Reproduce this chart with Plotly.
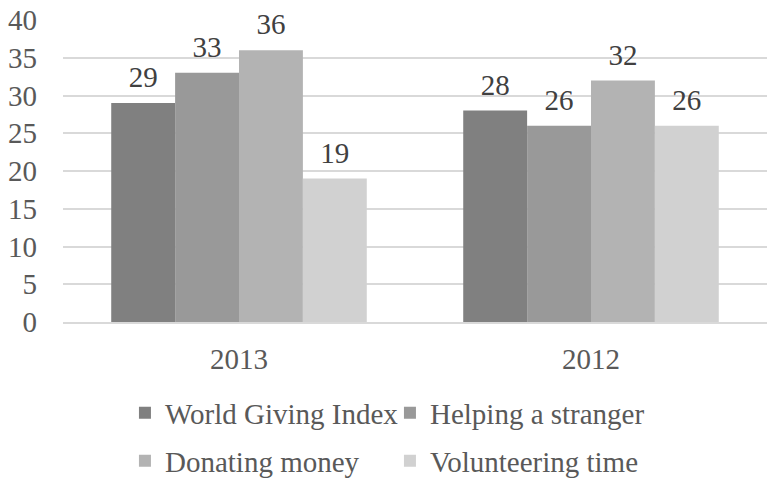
import plotly.graph_objects as go

categories = ["2013", "2012"]
series_names = ["World Giving Index", "Helping a stranger", "Donating money", "Volunteering time"]
world_giving = [29, 28]
helping = [33, 26]
donating = [36, 32]
volunteering = [19, 26]
colors = ["#808080", "#999999", "#b3b3b3", "#d1d1d1"]
legend_ids = ["legend", "legend", "legend2", "legend2"]
y_ticks = [0, 5, 10, 15, 20, 25, 30, 35, 40]

FONT = "'Liberation Serif', 'DejaVu Serif', serif"
TXT = "#595959"
FS = 29
LABEL_PAD = 0.9  # gap (in axis units) between bar top and its value label

fig = go.Figure()
all_vals = [world_giving, helping, donating, volunteering]
for i, (name, vals, col, lg) in enumerate(zip(series_names, all_vals, colors, legend_ids)):
    fig.add_trace(go.Bar(
        x=categories, y=vals, name=name, marker=dict(color=col, line=dict(width=0)),
        offsetgroup=str(i), legend=lg, hoverinfo="y",
    ))
for i, vals in enumerate(all_vals):
    fig.add_trace(go.Bar(
        x=categories, y=[LABEL_PAD] * len(vals), base=vals, offsetgroup=str(i),
        marker=dict(color="rgba(0,0,0,0)", line=dict(width=0)),
        text=[str(v) for v in vals], textposition="outside",
        textfont=dict(family=FONT, size=FS, color="#404040"),
        cliponaxis=False, showlegend=False, hoverinfo="skip",
    ))

leg_common = dict(orientation="h", xanchor="left", yanchor="middle",
                  entrywidth=220, entrywidthmode="pixels",
                  font=dict(family=FONT, size=FS, color=TXT),
                  bgcolor="rgba(0,0,0,0)", tracegroupgap=0, itemwidth=30)

fig.update_layout(
    width=767, height=478,
    margin=dict(l=63, r=0, t=20, b=156, autoexpand=False),
    paper_bgcolor="white", plot_bgcolor="white",
    barmode="group", bargap=0.274, bargroupgap=0,
    font=dict(family=FONT, size=FS, color=TXT),
    legend=dict(x=0.088, y=-0.301, **leg_common),
    legend2=dict(x=0.088, y=-0.460, **leg_common),
)
fig.update_yaxes(range=[0, 40], tickvals=y_ticks, showgrid=True, gridcolor="#d9d9d9", gridwidth=1.5,
                 zeroline=False, showline=False, ticks="",
                 tickfont=dict(family=FONT, size=FS, color=TXT), ticklabelstandoff=25)
fig.update_xaxes(showline=True, linecolor="#d9d9d9", linewidth=1.5, ticks="",
                 tickfont=dict(family=FONT, size=FS, color=TXT), ticklabelstandoff=10)

fig.write_html("out.html", config={"displayModeBar": False},
               post_script="document.body.style.margin='0';document.body.style.padding='0';")
